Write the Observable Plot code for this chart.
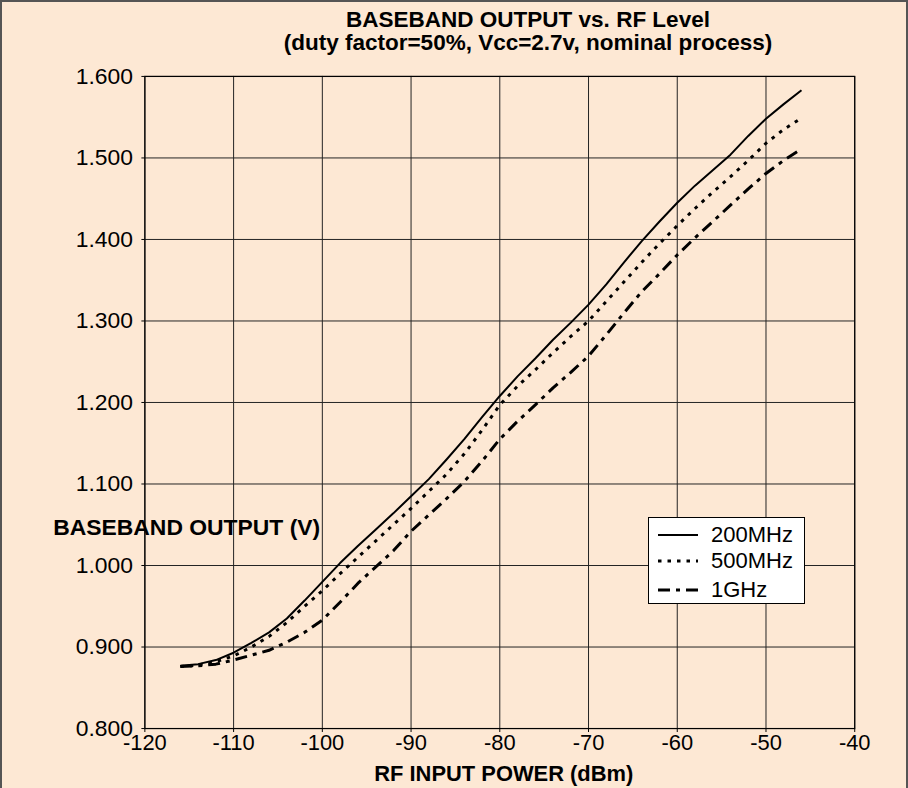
<!DOCTYPE html>
<html>
<head>
<meta charset="utf-8">
<script src="https://cdn.jsdelivr.net/npm/d3@7"></script>
<script src="https://cdn.jsdelivr.net/npm/@observablehq/plot@0.6"></script>
<style>
  html, body { margin: 0; padding: 0; background: #fde8d4; }
  #page { position: relative; width: 908px; height: 788px; overflow: hidden; background: #fde8d4;
          font-family: "Liberation Sans", Arial, sans-serif; box-sizing: border-box;
          border-left: 2px solid #555; border-top: 2px solid #555; border-right: 2px solid #555; }
  #title { position: absolute; left: 146px; width: 760px; top: 6px; text-align: center; font-weight: bold;
           font-size: 22.5px; line-height: 23px; color: #000; }
  #chart { position: absolute; left: -2px; top: 58px; }
  #legend { position: absolute; left: 646px; top: 515px; width: 155px; height: 85px; background: #fff;
            border: 1px solid #000; }
  .lrow { position: absolute; left: 0; height: 24px; width: 155px; }
  .lrow svg { position: absolute; left: 9px; top: 0; }
  .lrow span { position: absolute; left: 62px; top: 0; font-size: 22px; line-height: 24px; color: #000; }
</style>
</head>
<body>
<div id="page">
  <div id="title"></div>
  <div id="chart"></div>
  <div id="legend"></div>
</div>
<script>
const titleLines = ["BASEBAND OUTPUT vs. RF Level", "(duty factor=50%, Vcc=2.7v, nominal process)"];
const xLabel = "RF INPUT POWER (dBm)";
const yLabel = "BASEBAND OUTPUT (V)";
const seriesNames = ["200MHz", "500MHz", "1GHz"];
const xTicks = [-120, -110, -100, -90, -80, -70, -60, -50, -40];
const yTicks = [0.8, 0.9, 1.0, 1.1, 1.2, 1.3, 1.4, 1.5, 1.6];
const rfPower = [-116, -114, -112, -110, -108, -106, -104, -102, -100, -98, -96, -94, -92, -90, -88, -86, -84, -82,
                 -80, -78, -76, -74, -72, -70, -68, -66, -64, -62, -60, -58, -56, -54, -52, -50, -48, -46];
const out200MHz = [0.877, 0.879, 0.884, 0.893, 0.905, 0.918, 0.935, 0.957, 0.980, 1.003, 1.024, 1.044, 1.064, 1.085,
                   1.106, 1.130, 1.155, 1.182, 1.208, 1.232, 1.254, 1.277, 1.298, 1.320, 1.345, 1.372, 1.398, 1.422,
                   1.445, 1.466, 1.485, 1.504, 1.527, 1.548, 1.566, 1.583];
const out500MHz = [0.876, 0.878, 0.882, 0.889, 0.900, 0.913, 0.930, 0.950, 0.969, 0.990, 1.010, 1.030, 1.050, 1.070,
                   1.091, 1.112, 1.137, 1.166, 1.197, 1.220, 1.240, 1.261, 1.281, 1.300, 1.324, 1.348, 1.372, 1.395,
                   1.417, 1.438, 1.458, 1.477, 1.497, 1.518, 1.535, 1.549];
const out1GHz = [0.876, 0.877, 0.879, 0.884, 0.890, 0.896, 0.906, 0.918, 0.933, 0.955, 0.978, 0.998, 1.018, 1.042,
                 1.062, 1.082, 1.103, 1.128, 1.155, 1.177, 1.197, 1.218, 1.237, 1.257, 1.283, 1.310, 1.336, 1.358,
                 1.381, 1.402, 1.422, 1.442, 1.462, 1.481, 1.497, 1.511];

const seriesValues = [out200MHz, out500MHz, out1GHz];
const dashes = [null, "3.5,6", "12,6,4,6"];
const widths = [2, 3, 3];

document.getElementById("title").innerHTML = titleLines.map(t => `<div>${t}</div>`).join("");

const rows = seriesNames.map((name, s) => rfPower.map((x, i) => ({x, y: seriesValues[s][i], series: name})));

const marks = [
  Plot.gridX(xTicks, {stroke: "#222", strokeOpacity: 1, strokeWidth: 1}),
  Plot.gridY(yTicks, {stroke: "#222", strokeOpacity: 1, strokeWidth: 1}),
  Plot.frame({stroke: "#000", strokeWidth: 1.2}),
  Plot.axisX(xTicks, {tickSize: 4, tickPadding: 2, tickFormat: d => String(d), label: null, fontSize: 22}),
  Plot.axisY(yTicks, {tickSize: 3, tickPadding: 9, tickFormat: d => d.toFixed(3), label: null, fontSize: 23}),
  ...rows.map((data, s) => Plot.line(data, {x: "x", y: "y", stroke: "#000", strokeWidth: widths[s],
      strokeDasharray: dashes[s], strokeLinecap: "butt"})),
  Plot.text([yLabel], {frameAnchor: "left", text: d => d, textAnchor: "start", dx: -92, dy: 125.5,
      fontWeight: "bold", fontSize: 23, fill: "#000"}),
  Plot.text([xLabel], {frameAnchor: "bottom", text: d => d, dx: 4, dy: 46, lineAnchor: "middle",
      fontWeight: "bold", fontSize: 22, fill: "#000"})
];

const chart = Plot.plot({
  width: 910,
  height: 730,
  marginTop: 16,
  marginBottom: 59,
  marginLeft: 145,
  marginRight: 52,
  x: {domain: [-120, -40]},
  y: {domain: [0.8, 1.6]},
  style: {fontFamily: '"Liberation Sans", Arial, sans-serif', fontSize: "23px", color: "#000",
          background: "transparent", overflow: "visible"},
  marks
});
document.getElementById("chart").appendChild(chart);

const legend = document.getElementById("legend");
const rowTops = [5, 31, 60];
seriesNames.forEach((name, s) => {
  const row = document.createElement("div");
  row.className = "lrow";
  row.style.top = rowTops[s] + "px";
  const dash = dashes[s] ? `stroke-dasharray="${dashes[s]}"` : "";
  row.innerHTML = `<svg width="42" height="24"><line x1="0" x2="40" y1="12" y2="12" stroke="#000" stroke-width="${widths[s]}" ${dash}/></svg><span>${name}</span>`;
  legend.appendChild(row);
});
</script>
</body>
</html>
